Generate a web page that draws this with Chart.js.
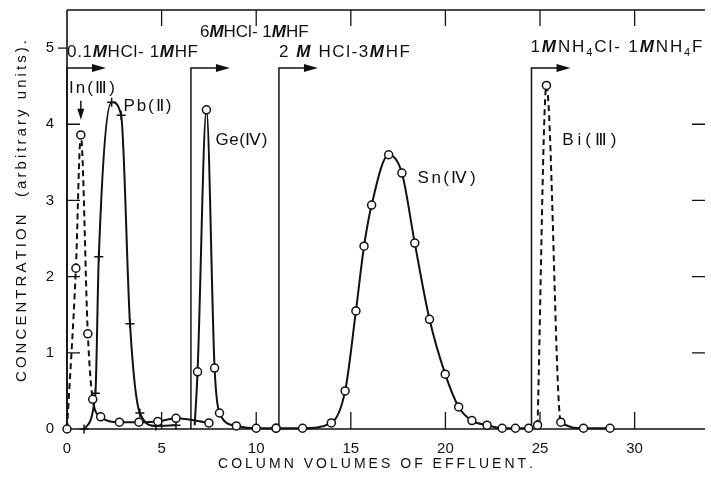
<!DOCTYPE html>
<html>
<head>
<meta charset="utf-8">
<script src="https://cdn.jsdelivr.net/npm/chart.js@4.4.0/dist/chart.umd.min.js"></script>
<style>
  html, body { margin: 0; padding: 0; background: #fff; }
  #wrap { width: 711px; height: 479px; }
</style>
</head>
<body>
<div id="wrap"><canvas id="chart" width="711" height="479"></canvas></div>
<script>
// Elution data (column volumes of effluent vs concentration, arbitrary units)
const inX = [0, 0.47, 0.73, 1.1, 1.36, 1.78, 2.77, 3.8, 4.8, 5.76, 7.5];
const inY = [0, 2.11, 3.86, 1.25, 0.39, 0.16, 0.09, 0.09, 0.1, 0.14, 0.08];
const pbX = [0.9, 1.5, 1.68, 2.36, 2.86, 3.33, 3.85, 4.7, 5.76];
const pbY = [0, 0.47, 2.26, 4.29, 4.12, 1.38, 0.21, 0.04, 0.05];
const geX = [6.75, 6.9, 7.37, 7.8, 8.06, 8.95, 10, 11.05];
const geY = [0.05, 0.75, 4.19, 0.8, 0.21, 0.04, 0.01, 0.01];
const snX = [11.05, 12.45, 13.97, 14.7, 15.27, 15.7, 16.1, 17.0, 17.7, 18.38, 19.16, 19.99, 20.7, 21.4, 22.2, 23.0, 23.7, 24.4];
const snY = [0.01, 0.01, 0.08, 0.5, 1.55, 2.4, 2.94, 3.6, 3.36, 2.44, 1.44, 0.72, 0.29, 0.11, 0.05, 0.01, 0.01, 0.01];
const biX = [24.87, 25.34, 26.1, 27.3, 28.7];
const biY = [0.05, 4.51, 0.09, 0.01, 0.01];

// Axis ticks
const xTicks = [0, 5, 10, 15, 20, 25, 30];
const yTicks = [0, 1, 2, 3, 4, 5];

// Eluent changes (column volume where each starts) and names
const eluentStart = [0, 6.55, 11.2, 24.55];
const eluentNames = ['0.1*M*HCl- 1*M*HF', '6*M*HCl- 1*M*HF', '2 *M* HCl-3*M*HF', '1*M*NH~4~Cl- 1*M*NH~4~F'];
const arrowLevel = 4.74;

// Peak labels: [text, x, y] in data units
const peakLabels = [
  ['In(Ⅲ)', 0.1, 4.47],
  ['Pb(Ⅱ)', 2.98, 4.23],
  ['Ge(Ⅳ)', 7.85, 3.79],
  ['Sn(Ⅳ)', 18.53, 3.29],
  ['Bi(Ⅲ)', 26.18, 3.79]
];

const FONT = '"Liberation Sans", Arial, sans-serif';
const INK = '#111';

function pts(xs, ys) {
  return xs.map((x, i) => ({ x: x, y: ys[i] }));
}

// dashed up to (and including) segment ending at index `upto`
function dashTo(upto) {
  return { borderDash: ctx => ctx.p1DataIndex <= upto ? [6, 4] : undefined };
}

// split "a*M*b~4~" into parts (italic / subscript)
function parse(str) {
  return str.split(/(\*[^*]+\*|~[^~]+~)/).filter(s => s).map(s => {
    if (s[0] === '*') return { t: s.slice(1, -1), it: true };
    if (s[0] === '~') return { t: s.slice(1, -1), sub: true };
    return { t: s };
  });
}

function fontFor(p, size) {
  return (p.it ? 'italic bold ' : '') + (p.sub ? Math.round(size * 0.65) : size) + 'px ' + FONT;
}

// draw rich text starting at x, vertically centred on y, stretched to width
function drawFit(ctx, str, x, y, size, width) {
  const parts = parse(str);
  const chars = [];
  parts.forEach(p => {
    for (const c of p.t) chars.push(Object.assign({}, p, { t: c }));
  });
  let natural = 0;
  chars.forEach(c => { ctx.font = fontFor(c, size); c.w = ctx.measureText(c.t).width; natural += c.w; });
  const gap = width && chars.length > 1 ? Math.max(0, (width - natural) / (chars.length - 1)) : 0;
  ctx.textBaseline = 'middle';
  ctx.textAlign = 'left';
  let cx = x;
  chars.forEach(c => {
    ctx.font = fontFor(c, size);
    ctx.fillText(c.t, cx, y + (c.sub ? size * 0.35 : 0));
    cx += c.w + gap;
  });
}

function arrowHead(ctx, x, y, dir) {
  ctx.beginPath();
  if (dir === 'right') {
    ctx.moveTo(x, y); ctx.lineTo(x - 14, y - 4); ctx.lineTo(x - 14, y + 4);
  } else {
    ctx.moveTo(x, y); ctx.lineTo(x - 3.5, y - 11); ctx.lineTo(x + 3.5, y - 11);
  }
  ctx.closePath();
  ctx.fill();
}

const figure = {
  id: 'figure',
  beforeDatasetsDraw(chart) {
    const ctx = chart.ctx;
    const a = chart.chartArea;
    const xs = chart.scales.x, ys = chart.scales.y;
    ctx.save();
    ctx.strokeStyle = INK;
    ctx.fillStyle = INK;
    ctx.lineWidth = 1.6;

    // frame: left, top, bottom
    ctx.beginPath();
    ctx.moveTo(a.left, a.bottom); ctx.lineTo(a.left, a.top);
    ctx.moveTo(a.left, a.top); ctx.lineTo(a.right, a.top);
    ctx.moveTo(a.left, a.bottom); ctx.lineTo(a.right, a.bottom);
    ctx.stroke();

    // x ticks, inward from bottom and top
    ctx.lineWidth = 1.3;
    xTicks.forEach(v => {
      if (v === 0) return;
      const px = xs.getPixelForValue(v);
      ctx.beginPath();
      ctx.moveTo(px, a.bottom); ctx.lineTo(px, a.bottom - 17);
      ctx.moveTo(px, a.top); ctx.lineTo(px, a.top + 16);
      ctx.stroke();
    });
    // y ticks, inward from left and right
    yTicks.forEach(v => {
      if (v === 0) return;
      const py = ys.getPixelForValue(v);
      ctx.beginPath();
      if (v === 5) {
        ctx.moveTo(a.left - 9, py); ctx.lineTo(a.left, py);
      } else {
        ctx.moveTo(a.left, py); ctx.lineTo(a.left + 13, py);
        ctx.moveTo(a.right, py); ctx.lineTo(a.right - 13, py);
      }
      ctx.stroke();
    });

    // eluent change lines with arrows
    ctx.lineWidth = 1.5;
    const ay = ys.getPixelForValue(arrowLevel);
    eluentStart.forEach(v => {
      const px = xs.getPixelForValue(v);
      ctx.beginPath();
      ctx.moveTo(px, a.bottom); ctx.lineTo(px, ay); ctx.lineTo(px + 30, ay);
      ctx.stroke();
      arrowHead(ctx, px + 39, ay, 'right');
    });

    // In(III) pointer
    const ix = xs.getPixelForValue(0.73);
    ctx.beginPath();
    ctx.moveTo(ix, ys.getPixelForValue(4.31)); ctx.lineTo(ix, ys.getPixelForValue(4.12));
    ctx.stroke();
    arrowHead(ctx, ix, ys.getPixelForValue(4.06), 'down');
    ctx.restore();
  },
  afterDatasetsDraw(chart) {
    const ctx = chart.ctx;
    const a = chart.chartArea;
    const xs = chart.scales.x, ys = chart.scales.y;
    ctx.save();
    ctx.fillStyle = INK;

    // tick labels
    ctx.font = '15px ' + FONT;
    ctx.textAlign = 'center';
    ctx.textBaseline = 'middle';
    xTicks.forEach(v => ctx.fillText(String(v), xs.getPixelForValue(v), a.bottom + 20));
    ctx.textAlign = 'right';
    yTicks.forEach(v => ctx.fillText(String(v), a.left - 13, ys.getPixelForValue(v)));

    // axis titles
    drawFit(ctx, 'COLUMN VOLUMES OF EFFLUENT.', 218, a.bottom + 35, 14, 315);
    ctx.save();
    ctx.translate(22, 382);
    ctx.rotate(-Math.PI / 2);
    drawFit(ctx, 'CONCENTRATION  (arbitrary units).', 0, 0, 15, 342);
    ctx.restore();

    // eluent names
    const offs = [[0, 52, 131], [9, 32, 106], [0, 52, 131], [-1, 47, 172]];
    eluentNames.forEach((n, i) => {
      const px = xs.getPixelForValue(eluentStart[i]) + offs[i][0];
      drawFit(ctx, n, px, offs[i][1], 17, offs[i][2]);
    });

    // peak labels
    const widths = [46, 48, 52, 58, 54];
    peakLabels.forEach((l, i) => {
      drawFit(ctx, l[0], xs.getPixelForValue(l[1]), ys.getPixelForValue(l[2]), 17, widths[i]);
    });
    ctx.restore();
  }
};

const circle = {
  borderColor: INK,
  borderWidth: 2,
  pointStyle: 'circle',
  pointRadius: 4,
  pointBorderWidth: 1.5,
  pointBackgroundColor: '#fff',
  pointBorderColor: INK
};

new Chart(document.getElementById('chart'), {
  type: 'line',
  data: {
    datasets: [
      Object.assign({ label: 'In(III)', data: pts(inX, inY), segment: dashTo(4) }, circle),
      { label: 'Pb(II)', data: pts(pbX, pbY), borderColor: INK, borderWidth: 2,
        pointStyle: 'cross', pointRadius: 4.5, pointBorderWidth: 1.5, pointBorderColor: INK },
      Object.assign({ label: 'Ge(IV)', data: pts(geX, geY) }, circle,
        { pointRadius: ctx => ctx.dataIndex === 0 ? 0 : 4 }),
      Object.assign({ label: 'Sn(IV)', data: pts(snX, snY) }, circle),
      Object.assign({ label: 'Bi(III)', data: pts(biX, biY), segment: dashTo(2) }, circle)
    ]
  },
  options: {
    responsive: false,
    animation: false,
    layout: { padding: { left: 67, right: 0, top: 10, bottom: 50 } },
    datasets: {
      line: {
        cubicInterpolationMode: 'monotone',
        clip: false
      }
    },
    scales: {
      x: { type: 'linear', min: 0, max: 33.72, display: false },
      y: { type: 'linear', min: 0, max: 5.5, display: false }
    },
    plugins: {
      legend: { display: false },
      tooltip: { enabled: false }
    }
  },
  plugins: [figure]
});
</script>
</body>
</html>
